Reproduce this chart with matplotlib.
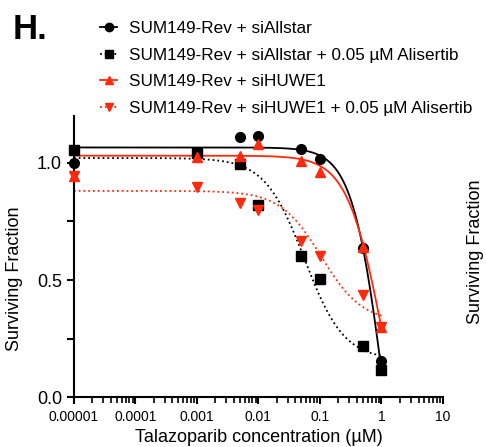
import matplotlib
matplotlib.use("Agg")
import matplotlib.pyplot as plt
import numpy as np
from matplotlib.lines import Line2D

plt.rcParams['font.family'] = ['Liberation Sans', 'DejaVu Sans']

# talazoparib doses (uM)
conc = [0.00001, 0.001, 0.005, 0.01, 0.05, 0.1, 0.5, 1]

labels = ['SUM149-Rev + siAllstar',
          'SUM149-Rev + siAllstar + 0.05 \u00b5M Alisertib',
          'SUM149-Rev + siHUWE1',
          'SUM149-Rev + siHUWE1 + 0.05 \u00b5M Alisertib']

allstar = [1.00, 1.04, 1.11, 1.115, 1.06, 1.015, 0.638, 0.155]
allstar_ali = [1.054, 1.04, 0.994, 0.82, 0.602, 0.503, 0.219, 0.116]
huwe1 = [0.945, 1.023, 1.028, 1.08, 1.008, 0.962, 0.64, 0.298]
huwe1_ali = [0.945, 0.898, 0.83, 0.80, 0.668, 0.602, 0.436, 0.298]

# fitted dose-response parameters: top, bottom, IC50, hill
fit_allstar = [1.065, -1.0, 1.10, 1.7]
fit_allstar_ali = [1.02, 0.16, 0.056, 1.35]
fit_huwe1 = [1.03, -0.5, 1.056, 1.5]
fit_huwe1_ali = [0.88, 0.32, 0.105, 1.3]

series = [allstar, allstar_ali, huwe1, huwe1_ali]
fits = [fit_allstar, fit_allstar_ali, fit_huwe1, fit_huwe1_ali]
colors = ['black', 'black', '#ff2a0e', '#ff2a0e']
markers = ['o', 's', '^', 'v']
styles = ['-', ':', '-', ':']
msizes = [7, 7.5, 7.5, 7.5]


def curve(x, top, bottom, ic50, hill):
    return bottom + (top - bottom) / (1 + (x / ic50) ** hill)


fig = plt.figure(figsize=(4.86, 4.47), dpi=100)
ax = fig.add_axes([0.152, 0.111, 0.7595, 0.63])

xs = np.logspace(np.log10(conc[0]), np.log10(conc[-1]), 300)
handles = []
for y, p, c, m, ls, ms in zip(series, fits, colors, markers, styles, msizes):
    ax.plot(xs, curve(xs, *p), color=c, ls=ls, lw=1.3, zorder=2)
    ax.plot(conc, y, color=c, marker=m, ls='none', ms=ms, zorder=3, clip_on=False)
    handles.append(Line2D([], [], color=c, ls=ls, lw=1.3, marker=m, ms=6))

ax.set_xscale('log')
ax.set_xlim(1e-5, 10)
ax.set_ylim(0, 1.2)
ax.set_xticks([1e-5, 1e-4, 1e-3, 1e-2, 1e-1, 1, 10])
ax.set_xticklabels(['0.00001', '0.0001', '0.001', '0.01', '0.1', '1', '10'])
ax.set_yticks([0, 0.5, 1.0])
ax.set_yticklabels(['0.0', '0.5', '1.0'])
ax.set_yticks([0.25, 0.75], minor=True)

for s in ['top', 'right']:
    ax.spines[s].set_visible(False)
for s in ['left', 'bottom']:
    ax.spines[s].set_linewidth(1.5)

ax.tick_params(axis='x', which='major', length=5, width=1.5, labelsize=10, pad=4)
ax.tick_params(axis='x', which='minor', length=4, width=1.2)
ax.tick_params(axis='y', which='both', length=5, width=1.5, labelsize=13)
ax.set_xlabel('Talazoparib concentration (\u00b5M)', fontsize=13, labelpad=4)
ax.set_ylabel('Surviving Fraction', fontsize=13)
ax.yaxis.set_label_coords(-0.138, 0.42)

fig.legend(handles, labels, loc='upper left', bbox_to_anchor=(0.192, 0.968),
           frameon=False, fontsize=12.3, handlelength=1.0, handletextpad=0.7,
           labelspacing=0.68, borderaxespad=0)

fig.text(0.025, 0.972, 'H.', fontsize=25, fontweight='bold', va='top', ha='left')
fig.text(0.978, 0.436, 'Surviving Fraction', fontsize=13, rotation=90,
         va='center', ha='center')

fig.savefig('out.png', dpi=100)
